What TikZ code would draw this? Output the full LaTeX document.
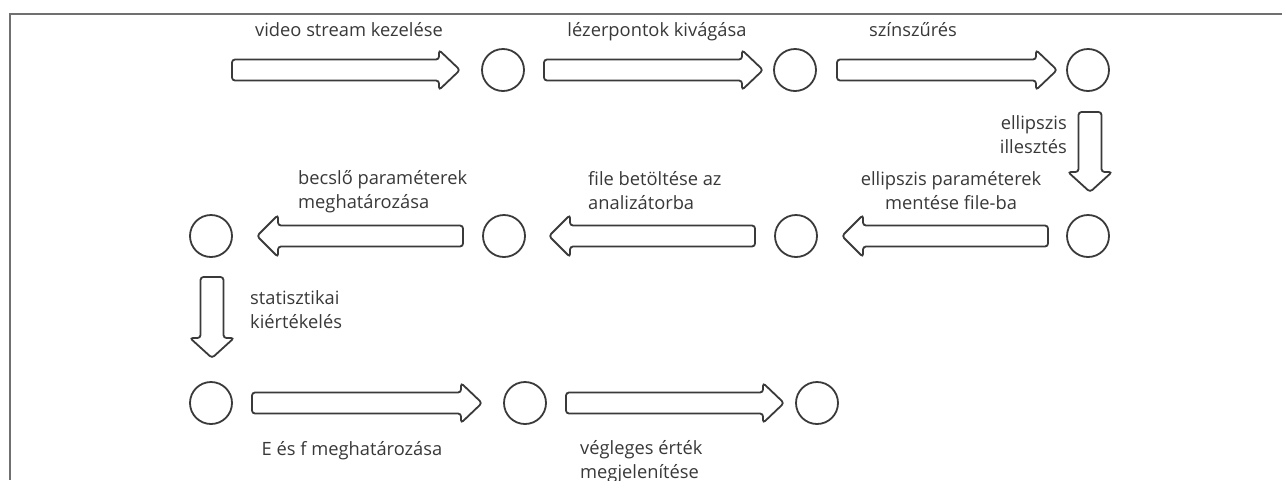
\documentclass[tikz,border=0pt]{standalone}
\usepackage{fontspec}
\setmainfont{Open Sans}
\definecolor{ln}{HTML}{3A3A3A}
\definecolor{tx}{HTML}{383838}
\definecolor{fr}{HTML}{707070}
\tikzset{
  blk/.style={draw=ln, line width=1.8pt, rounded corners=3pt, fill=white},
  stepcirc/.style={circle, draw=ln, line width=1.8pt, minimum size=42pt, inner sep=0pt},
  lbl/.style={text=tx, inner sep=0pt, font=\fontsize{18.3}{23.5}\selectfont, align=left},
  lblc/.style={lbl, align=center}
}
% right-pointing arrow: x start, x tip, y
\newcommand\rarr[3]{\draw[blk] (#1,#3-10.5) -- (#2-21,#3-10.5) -- (#2-21,#3-20) -- (#2,#3) -- (#2-21,#3+20) -- (#2-21,#3+10.5) -- (#1,#3+10.5) -- cycle;}
% left-pointing arrow: x start (right end), x tip, y
\newcommand\larr[3]{\draw[blk] (#1,#3-10.5) -- (#2+21,#3-10.5) -- (#2+21,#3-21) -- (#2,#3) -- (#2+21,#3+21) -- (#2+21,#3+10.5) -- (#1,#3+10.5) -- cycle;}
% down-pointing arrow: x, y start, y tip
\newcommand\darr[3]{\draw[blk] (#1-11.5,#2) -- (#1-11.5,#3-20) -- (#1-22,#3-20) -- (#1,#3) -- (#1+22,#3-20) -- (#1+11.5,#3-20) -- (#1+11.5,#2) -- cycle;}
\begin{document}
\begin{tikzpicture}[x=1pt,y=-1pt]
\useasboundingbox (0,0) rectangle (1282,480);
\draw[fr, line width=1.4pt] (10,480) -- (10,14) -- (1282,14);
% row 1
\node[stepcirc] (c1) at (503,70) {};
\node[stepcirc] (c2) at (795,70) {};
\node[stepcirc] (c3) at (1088,70) {};
\rarr{232}{460}{70}
\rarr{544}{763}{70}
\rarr{837}{1057}{70}
\node[lbl, anchor=base] (t1) at (349,36) {video stream kezelése};
\node[lbl, anchor=base] (t2) at (657,36) {lézerpontok kivágása};
\node[lbl, anchor=base] (t3) at (913,36) {színszűrés};
% down right
\darr{1090}{112}{192}
\node[lbl, anchor=base east, align=right] (t4) at (1067,153) {ellipszis\\illesztés};
% row 2
\node[stepcirc] (c4) at (1088,236) {};
\node[stepcirc] (c5) at (796,236) {};
\node[stepcirc] (c6) at (504,236) {};
\node[stepcirc] (c7) at (211,236) {};
\larr{1048}{842}{236}
\larr{755}{549}{236}
\larr{463}{257}{236}
\node[lblc, anchor=base] (t5) at (951,209) {ellipszis paraméterek\\mentése file-ba};
\node[lbl, anchor=base west] (t6) at (588,209) {file betöltése az\\analizátorba};
\node[lbl, anchor=base west] (t7) at (298,208) {becslő paraméterek\\meghatározása};
% down left
\darr{212}{277}{358}
\node[lbl, anchor=base west] (t8) at (250,328) {statisztikai\\kiértékelés};
% row 3
\node[stepcirc] (c8) at (211,403) {};
\node[stepcirc] (c9) at (525,403) {};
\node[stepcirc] (c10) at (817,403) {};
\rarr{252}{482}{403}
\rarr{566}{784}{403}
\node[lbl, anchor=base] (t9) at (352,455) {E és f meghatározása};
\node[lbl, anchor=base west] (t10) at (580,478) {végleges érték\\megjelenítése};
\end{tikzpicture}
\end{document}
